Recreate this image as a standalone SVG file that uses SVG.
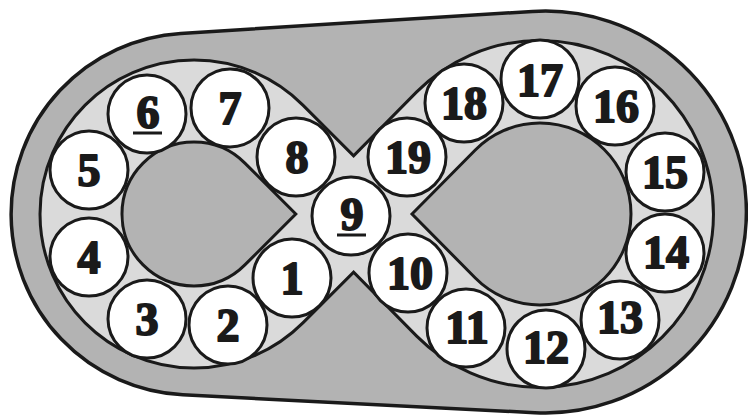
<svg xmlns="http://www.w3.org/2000/svg" width="748" height="415" viewBox="0 0 748 415">
<style>
.body{fill:#b3b3b3;stroke:#1a1a1a;stroke-width:3.5;stroke-linejoin:round}
.band{fill:#dadada;stroke:#1a1a1a;stroke-width:3;stroke-linejoin:miter}
.hole{fill:#b3b3b3;stroke:#1a1a1a;stroke-width:3;stroke-linejoin:miter}
.ball circle{fill:#ffffff;stroke:#1a1a1a;stroke-width:3}
.ball text{font-family:"Liberation Serif","DejaVu Serif",serif;font-weight:bold;font-size:46px;fill:#1a1a1a;stroke:#1a1a1a;stroke-width:2;stroke-linejoin:round;text-anchor:middle}
.ul{fill:#1a1a1a}
</style>
<rect width="748" height="415" fill="#ffffff"/>
<g id="housing">
<path class="body" d="M180.7,33.4 L532.5,11.4 A201,201 0 1 1 534.7,412.7 L182.8,394.8 A181,181 0 0 1 180.7,33.4 Z"/>
</g>
<g id="track">
<path class="band" d="M302.9,105.1 A154,154 0 1 0 302.9,322.9 L353.6,272.2 L416.7,336.1 A173.5,173.5 0 1 0 416.7,91.9 L353.6,155.8 Z"/>
<path class="hole" d="M295.8,214 L244.9,163.1 A72,72 0 1 0 244.9,264.9 Z"/>
<path class="hole" d="M412,214 L475.3,150 A91,91 0 1 1 475.3,278 Z"/>
</g>
<g id="b1" class="ball"><circle cx="292" cy="278" r="39"/><text x="292" y="294">1</text></g>
<g id="b2" class="ball"><circle cx="228" cy="325" r="39"/><text x="228" y="341">2</text></g>
<g id="b3" class="ball"><circle cx="147" cy="319" r="39"/><text x="147" y="335">3</text></g>
<g id="b4" class="ball"><circle cx="89" cy="257" r="39"/><text x="89" y="273">4</text></g>
<g id="b5" class="ball"><circle cx="89" cy="170" r="39"/><text x="89" y="186">5</text></g>
<g id="b6" class="ball"><circle cx="147" cy="114" r="39"/><text x="148" y="128">6</text><rect class="ul" x="133" y="131.5" width="29" height="3"/></g>
<g id="b7" class="ball"><circle cx="230" cy="108" r="39"/><text x="230" y="124">7</text></g>
<g id="b8" class="ball"><circle cx="296" cy="157" r="39"/><text x="297" y="173">8</text></g>
<g id="b9" class="ball"><circle cx="351" cy="216" r="39"/><text x="352" y="230">9</text><rect class="ul" x="337" y="233.5" width="29" height="3"/></g>
<g id="b10" class="ball"><circle cx="408" cy="273" r="39"/><text x="410" y="289">10</text></g>
<g id="b11" class="ball"><circle cx="466" cy="328" r="39"/><text x="467" y="343">11</text></g>
<g id="b12" class="ball"><circle cx="546" cy="349" r="39"/><text x="546" y="363">12</text></g>
<g id="b13" class="ball"><circle cx="620" cy="320" r="39"/><text x="620" y="333">13</text></g>
<g id="b14" class="ball"><circle cx="665" cy="253" r="39"/><text x="666" y="268">14</text></g>
<g id="b15" class="ball"><circle cx="665" cy="172" r="39"/><text x="665" y="188">15</text></g>
<g id="b16" class="ball"><circle cx="615" cy="106" r="39"/><text x="616" y="122">16</text></g>
<g id="b17" class="ball"><circle cx="540" cy="79" r="39"/><text x="540" y="96">17</text></g>
<g id="b18" class="ball"><circle cx="464" cy="103" r="39"/><text x="464" y="119">18</text></g>
<g id="b19" class="ball"><circle cx="407" cy="157" r="39"/><text x="408" y="173">19</text></g>
</svg>
